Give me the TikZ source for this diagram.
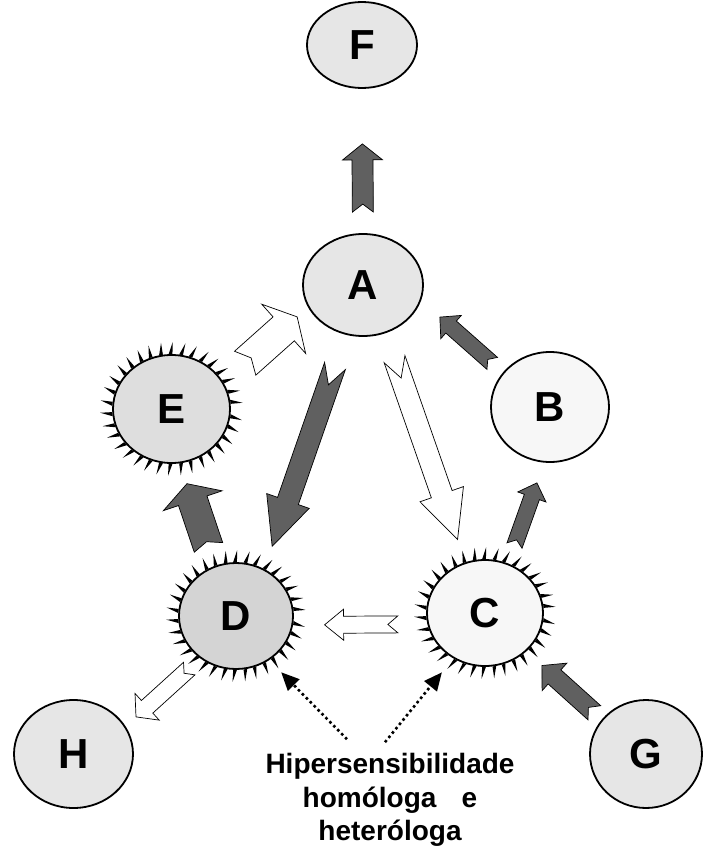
\documentclass[tikz,border=0pt]{standalone}
\usepackage{fontspec}
\setmainfont{Liberation Sans}
\usepackage{tikz}
\usetikzlibrary{arrows.meta,calc,shapes.geometric}
\definecolor{NodeFill}{RGB}{230,230,230}
\definecolor{NodeMid}{RGB}{222,222,222}
\definecolor{NodeDark}{RGB}{212,212,212}
\definecolor{NodeLight}{RGB}{247,247,247}
\definecolor{ArrowGray}{RGB}{96,96,96}

\tikzset{
  cell/.style={ellipse, draw, line width=1.8pt, inner sep=0pt,
    font=\bfseries\fontsize{42}{42}\selectfont},
  darkarrow/.style={fill=ArrowGray, draw=black, line width=0.7pt},
  lightarrow/.style={fill=white, draw=black, line width=0.7pt},
  hint/.style={line width=2.6pt, dash pattern=on 2.6pt off 3pt,
    -{Triangle[length=18pt,width=16pt]}},
}

%% block arrow: [style]{tail}{tip}{shaft half width}{head half width}{head length}{notch}
\newcommand{\fatarrow}[7][]{%
  \coordinate (fa-t) at #2;
  \coordinate (fa-e) at #3;
  \coordinate (fa-m) at ($(fa-e)!#6!(fa-t)$);
  \draw[#1]
    ($(fa-t)!#4!90:(fa-e)$) to ($(fa-m)!#4!90:(fa-e)$)
    to ($(fa-m)!#5!90:(fa-e)$) to (fa-e)
    to ($(fa-m)!#5!-90:(fa-e)$) to ($(fa-m)!#4!-90:(fa-e)$)
    to ($(fa-t)!#4!-90:(fa-e)$) to ($(fa-t)!#7!(fa-e)$) -- cycle;
}

\begin{document}
\begin{tikzpicture}[x=1pt,y=-1pt]
    \useasboundingbox (0,0) rectangle (702,851);
    %%Cells
    \node[cell, fill=NodeFill, minimum width=110pt, minimum height=86pt] (F) at (362,45) {F};
    \node[cell, fill=NodeFill, minimum width=120pt, minimum height=102pt] (A) at (363,285) {A};
    \node[cell, fill=NodeMid, minimum width=117pt, minimum height=108pt] (E) at (171.5,409) {E};
    \node[cell, fill=NodeLight, minimum width=118pt, minimum height=110pt] (B) at (550,407) {B};
    \node[cell, fill=NodeDark, minimum width=114pt, minimum height=106pt] (D) at (236,616) {D};
    \node[cell, fill=NodeLight, minimum width=116pt, minimum height=106pt] (C) at (485,613) {C};
    \node[cell, fill=NodeFill, minimum width=119pt, minimum height=108pt] (H) at (73.5,754) {H};
    \node[cell, fill=NodeFill, minimum width=112pt, minimum height=108pt] (G) at (646,754) {G};
    %%Spikes on the sensitised cells
    \foreach \cellname in {E,D,C}
      \foreach \a [evaluate=\a as \al using \a-4, evaluate=\a as \ar using \a+4] in {5,15.5,...,360}
        \fill (\cellname.\al) to ($(\cellname.\a)!-12pt!(\cellname.center)$) to (\cellname.\ar) -- cycle;
    %%Block arrows
    \fatarrow[darkarrow]{($(A.north)!21pt!(F.south)$)}{($(F.south)!55pt!(A.north)$)}{10.5pt}{20pt}{16pt}{8pt}
    \fatarrow[darkarrow]{($(B.144)!14pt!(A.345)$)}{($(A.345)!25pt!(B.144)$)}{8pt}{15.5pt}{15pt}{6pt}
    \fatarrow[darkarrow]{($(A.251)!33pt!(D.59)$)}{($(D.59)!24pt!(A.251)$)}{11pt}{22.5pt}{48pt}{20pt}
    \fatarrow[lightarrow]{($(A.295)!27.5pt!(C.111)$)}{($(C.111)!24pt!(A.295)$)}{11pt}{23pt}{48pt}{20pt}
    \fatarrow[lightarrow]{($(E.27)!29pt!(A.202)$)}{($(A.202)!14.5pt!(E.27)$)}{16pt}{33pt}{18pt}{8pt}
    \fatarrow[darkarrow]{($(D.113)!19.5pt!(E.279)$)}{($(E.279)!21.5pt!(D.113)$)}{15pt}{31pt}{18pt}{6pt}
    \fatarrow[darkarrow]{($(C.65)!19pt!(B.264)$)}{($(B.264)!21.5pt!(C.65)$)}{8pt}{15pt}{15pt}{6pt}
    \fatarrow[lightarrow]{($(C.191)!29.5pt!(D.351)$)}{($(D.351)!31.5pt!(C.191)$)}{8.5pt}{15.5pt}{19pt}{10pt}
    \fatarrow[darkarrow]{($(G.142)!10pt!(C.317)$)}{($(C.317)!21pt!(G.142)$)}{9.5pt}{18.5pt}{17pt}{8pt}
    \fatarrow[lightarrow]{($(D.230)!15pt!(H.28)$)}{($(H.28)!14pt!(D.230)$)}{8.5pt}{18pt}{15pt}{7pt}
    %%Label and dotted hints
    \node[font=\bfseries\fontsize{28}{33.5}\selectfont, align=center, inner sep=0pt] (hyper) at (390,800)
      {Hipersensibilidade\\homóloga\hspace{0.9em}e\\heteróloga};
    \draw[hint, shorten >=17pt] ([xshift=-43pt,yshift=14pt]hyper.north) to (D.307);
    \draw[hint, shorten >=18pt] ([xshift=-5pt,yshift=11pt]hyper.north) to (C.235);
\end{tikzpicture}
\end{document}
